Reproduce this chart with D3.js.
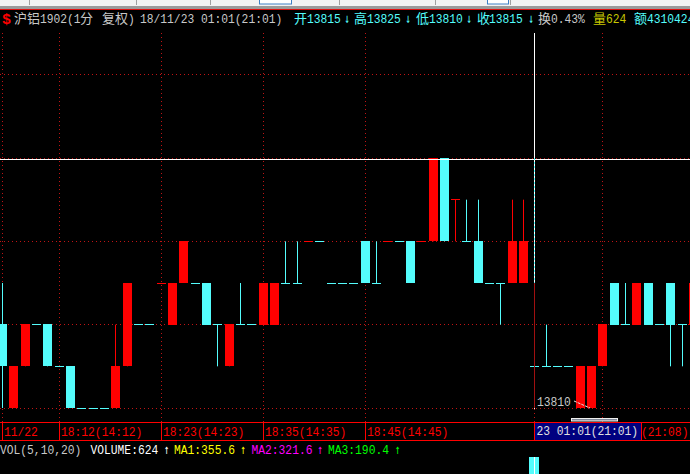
<!DOCTYPE html>
<html><head><meta charset="utf-8">
<script src="https://cdn.jsdelivr.net/npm/d3@7/dist/d3.min.js"></script>
<style>html,body{margin:0;padding:0;background:#000;overflow:hidden}svg{display:block}
text{white-space:pre}</style>
</head><body><svg id="c" width="690" height="474"></svg>
<script>
// price data, candle by candle
const opens  = [13820,13810,13815,13820,13820,13815,13815,13810,13810,13810,13810,13815,13820,13820,13825,13820,13825,13825,13825,13820,13815,13820,13820,13820,13820,13825,13825,13830,13830,13825,13825,13825,13830,13825,13830,13830,13830,13830,13830,13840,13835,13830,13830,13825,13825,13825,13825,13815,13815,13815,13815,13810,13810,13815,13825,13820,13820,13825,13820,13825,13820,13820];
const closes = [13815,13815,13820,13820,13815,13815,13810,13810,13810,13810,13815,13825,13820,13820,13825,13825,13830,13825,13820,13820,13820,13820,13820,13825,13825,13825,13825,13830,13830,13825,13825,13825,13825,13825,13830,13830,13825,13830,13840,13830,13835,13830,13825,13825,13825,13830,13830,13815,13815,13815,13815,13815,13815,13820,13820,13820,13825,13820,13820,13820,13820,13825];
const highs  = [13825,13815,13820,13820,13820,13815,13815,13810,13810,13810,13820,13825,13820,13820,13825,13825,13830,13825,13825,13820,13820,13825,13820,13825,13825,13830,13830,13830,13830,13825,13825,13825,13830,13830,13830,13830,13830,13830,13840,13840,13835,13835,13835,13825,13825,13835,13835,13825,13820,13815,13815,13815,13815,13820,13825,13825,13825,13825,13820,13825,13820,13825];
const lows   = [13810,13810,13815,13820,13815,13815,13810,13810,13810,13810,13810,13815,13820,13820,13825,13820,13825,13825,13820,13815,13815,13820,13820,13820,13820,13825,13825,13830,13830,13825,13825,13825,13825,13825,13830,13830,13825,13830,13830,13830,13830,13830,13825,13825,13820,13825,13825,13810,13815,13815,13815,13810,13810,13815,13820,13820,13820,13820,13820,13815,13815,13820];
// doji colouring: 1 = red, 0 = cyan (only used when open equals close)
const dojiRed = [0,0,0,0,0,0,0,0,0,0,0,0,0,0,1,0,0,0,0,0,0,0,0,0,0,0,0,1,0,0,0,0,0,0,1,0,0,1,0,0,1,0,0,0,0,0,0,0,0,0,0,0,0,0,0,0,0,0,0,0,0,0];
const selectedIndex = 47;
const selectedVolume = 624;
const gridPrices = [13810,13820,13830,13840,13850];
const dividerIdx = [0,5,14,23,32];
const gridIdx = [0,5,14,23,32,53];
const timeLabels = ["11/22","18:12(14:12)","18:23(14:23)","18:35(14:35)","18:45(14:45)"];
const crossPrice = 13839.85;

const RED="#ff0000",CYAN="#54fcfc",DOT="#c01414",GRAY="#c8c8c8",DARKY="#c8c800";
const svg=d3.select("#c");
const x=d3.scaleLinear().domain([0,47]).range([2.65,534.95]);
const y=d3.scaleLinear().domain([13810,13840]).range([408,158]);
const yVol=d3.scaleLinear().domain([0,624]).range([505,457]);
const barW=9;
const left=i=>Math.round(x(i)-barW/2);
const wx=i=>left(i)+barW/2;
const row=v=>Math.floor(y(v))+.5;
const col0=i=>Math.floor(x(i))+.5;

// window chrome strip
const chrome=svg.append("g");
chrome.append("rect").attr("width",690).attr("height",6).attr("fill","#f2f2f2");
chrome.append("rect").attr("y",6).attr("width",690).attr("height",3).attr("fill","#9a9a9a");
chrome.append("rect").attr("y",9).attr("width",690).attr("height",1).attr("fill","#e01010");
chrome.selectAll("rect.m").data([29,136,210,339,435,510]).join("rect").attr("x",d=>d).attr("y",0).attr("width",1).attr("height",5).attr("fill","#a0a0a0");
chrome.append("rect").attr("x",259.5).attr("y",-2).attr("width",32).attr("height",6).attr("fill","#fff").attr("stroke","#3c7fc4");
chrome.append("rect").attr("x",487.5).attr("y",-2).attr("width",21).attr("height",6).attr("fill","#fff").attr("stroke","#3c7fc4");

// grid
const grid=svg.append("g").attr("stroke",DOT).attr("stroke-width",1).attr("stroke-dasharray","1 3");
grid.selectAll("line.h").data(gridPrices).join("line").attr("class","h")
  .attr("x1",0).attr("x2",690).attr("y1",row).attr("y2",row);
grid.selectAll("line.v").data(gridIdx).join("line").attr("class","v")
  .attr("x1",col0).attr("x2",col0).attr("y1",33).attr("y2",422);
grid.append("line").attr("x1",wx(selectedIndex)).attr("x2",wx(selectedIndex)).attr("y1",409).attr("y2",422);

// candles
const idx=d3.range(opens.length);
const col=i=>opens[i]===closes[i]?(dojiRed[i]?RED:CYAN):(closes[i]>opens[i]?RED:CYAN);
const cg=svg.append("g");
cg.selectAll("line.w").data(idx.filter(i=>highs[i]!==lows[i])).join("line").attr("class","w")
  .attr("x1",wx).attr("x2",wx)
  .attr("y1",i=>y(highs[i])).attr("y2",i=>y(lows[i]))
  .attr("stroke",col);
cg.selectAll("rect.b").data(idx).join("rect").attr("class","b")
  .attr("x",left)
  .attr("width",barW)
  .attr("y",i=>Math.floor(y(Math.max(opens[i],closes[i]))))
  .attr("height",i=>opens[i]===closes[i]?1:Math.round(Math.abs(y(opens[i])-y(closes[i]))))
  .attr("fill",col);

// crosshair
const cx=wx(selectedIndex);
svg.append("line").attr("x1",0).attr("x2",690).attr("y1",row(crossPrice)).attr("y2",row(crossPrice)).attr("stroke","#fff");
svg.append("line").attr("x1",cx).attr("x2",cx).attr("y1",33).attr("y2",y(13825)).attr("stroke","#fff");
svg.append("line").attr("x1",cx).attr("x2",cx).attr("y1",y(13840)).attr("y2",y(13825)).attr("stroke",CYAN).attr("stroke-dasharray","2 2");
svg.append("line").attr("x1",cx).attr("x2",cx).attr("y1",y(13825)).attr("y2",y(13810)).attr("stroke","#a01010");
svg.append("rect").attr("x",cx-.5).attr("y",row(13810)-.5).attr("width",1).attr("height",1).attr("fill","#fff");

// text helpers: narrow fixed-pitch latin cells (stretched vertically), CJK cells
const T=(t,xx,yy,c)=>svg.append("text").attr("transform",`translate(${xx},${yy}) scale(1,1.19)`).attr("fill",c)
  .attr("font-family","'Liberation Mono',monospace").attr("font-size",11.3).text(t);
const Z=(t,xx,yy,c)=>svg.append("text").attr("x",xx).attr("y",yy).attr("fill",c)
  .attr("font-family","'Noto Sans CJK SC'").attr("font-size",13).text(t);
const A=(t,cxp,yy,c)=>svg.append("text").attr("transform",`translate(${cxp},${yy}) scale(1,1.5)`).attr("fill",c).attr("text-anchor","middle")
  .attr("font-family","'DejaVu Sans Mono'").attr("font-size",9).text(t);

// low marker
T("13810",537,406,"#c8c8c8");
svg.append("line").attr("x1",574).attr("y1",401).attr("x2",590).attr("y2",408).attr("stroke","#e0e0e0").attr("stroke-dasharray","3 1");
svg.append("rect").attr("x",571.5).attr("y",418.5).attr("width",46).attr("height",2.5).attr("fill","#808898").attr("stroke","#f0f0f0");

// time axis
const ax=svg.append("g");
ax.selectAll("line.t").data([422.5,440.5]).join("line").attr("class","t").attr("x1",0).attr("x2",690).attr("y1",d=>d).attr("y2",d=>d).attr("stroke",RED);
ax.selectAll("line.s").data(dividerIdx).join("line").attr("class","s").attr("x1",col0).attr("x2",col0).attr("y1",422).attr("y2",440).attr("stroke",RED);
ax.append("rect").attr("x",535).attr("y",423).attr("width",106).attr("height",17).attr("fill","#000080");
ax.append("line").attr("x1",534.5).attr("x2",534.5).attr("y1",423).attr("y2",440).attr("stroke",RED);
ax.append("line").attr("x1",641.5).attr("x2",641.5).attr("y1",423).attr("y2",440).attr("stroke",RED);
timeLabels.forEach((d,i)=>T(d,Math.floor(x(dividerIdx[i]))+2,436,RED));
T("23 01:01(21:01)",536.5,435,"#e0e0e0");
T("(21:08)",641,436,RED);

// volume
svg.append("rect").attr("x",Math.round(x(selectedIndex))-6).attr("width",10).attr("y",yVol(selectedVolume)).attr("height",yVol(0)-yVol(selectedVolume)).attr("fill",CYAN);
svg.append("line").attr("x1",cx).attr("x2",cx).attr("y1",457).attr("y2",474).attr("stroke","#fff");

// header
svg.append("text").attr("x",2).attr("y",24).attr("fill",RED).attr("font-family","'Liberation Mono'").attr("font-weight","bold").attr("font-size",15).text("$");
Z("沪铝",14,23,GRAY);
T("1902(1",40,23,GRAY);
Z("分",80,23,GRAY);
Z("复权",102,23,GRAY);
T(")",128,23,GRAY);
T("18/11/23 01:01(21:01)",140,23,GRAY);
Z("开",294,23,CYAN); T("13815",307,23,CYAN); A("↓",347,23,CYAN);
Z("高",354,23,CYAN); T("13825",367,23,CYAN); A("↓",408,23,CYAN);
Z("低",416,23,CYAN); T("13810",429,23,CYAN); A("↓",469,23,CYAN);
Z("收",477,23,CYAN); T("13815",489,23,CYAN); A("↓",531,23,CYAN);
Z("换",538,23,GRAY); T("0.43%",551,23,GRAY);
Z("量",593,23,DARKY); T("624",606,23,DARKY);
Z("额",634,23,CYAN); T("4310424",647,23,CYAN);

// indicator line
T("VOL(5,10,20)",0,454,GRAY);
T("VOLUME:624",90.5,454,"#ffffff");
A("↑",166.5,454,"#ffffff");
T("MA1:355.6",174,454,"#ffff00");
A("↑",243,454,"#ffff00");
T("MA2:321.6",251.5,454,"#ff00ff");
A("↑",320,454,"#ff00ff");
T("MA3:190.4",328,454,"#00ff00");
A("↑",397.5,454,"#00ff00");
</script></body></html>
